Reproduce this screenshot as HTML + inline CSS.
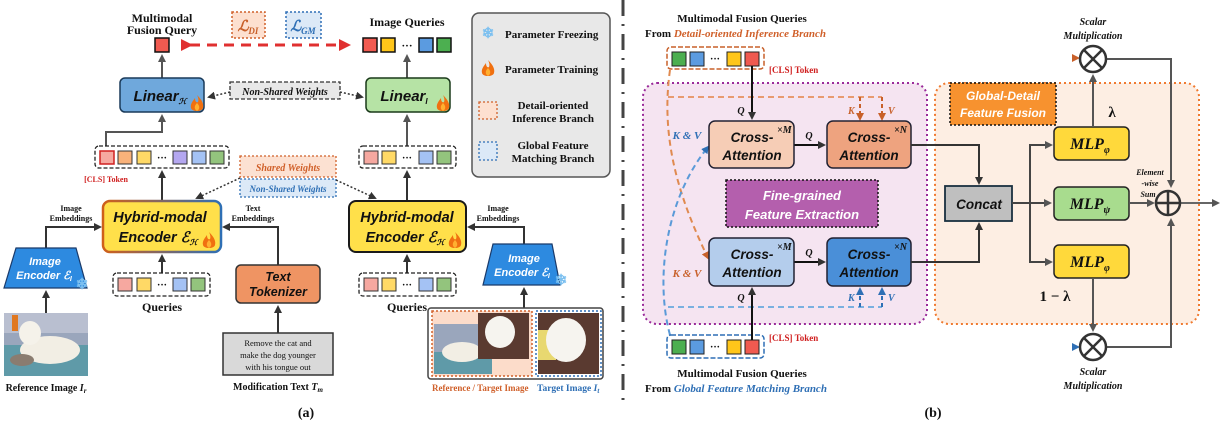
<!DOCTYPE html>
<html><head><meta charset="utf-8"><style>
html,body{margin:0;padding:0;background:#fff;width:1220px;height:423px;overflow:hidden}
text{font-family:"Liberation Serif",serif;font-weight:bold;fill:#111}
.s{font-family:"Liberation Sans",sans-serif;font-style:italic;font-weight:bold}
.it{font-style:italic}
</style></head><body>
<svg width="1220" height="423" viewBox="0 0 1220 423" xmlns="http://www.w3.org/2000/svg">
<defs>
<marker id="ah" markerWidth="8" markerHeight="8" refX="6" refY="4" orient="auto" markerUnits="userSpaceOnUse"><path d="M0,0 L8,4 L0,8 z" fill="#333"/></marker>
<marker id="ag" markerWidth="8" markerHeight="8" refX="6" refY="4" orient="auto" markerUnits="userSpaceOnUse"><path d="M0,0 L8,4 L0,8 z" fill="#555"/></marker>
<marker id="ar" markerWidth="12" markerHeight="12" refX="9" refY="6" orient="auto" markerUnits="userSpaceOnUse"><path d="M0,0 L12,6 L0,12 z" fill="#e03030"/></marker>
<marker id="ao" markerWidth="8" markerHeight="8" refX="6" refY="4" orient="auto" markerUnits="userSpaceOnUse"><path d="M0,0 L8,4 L0,8 z" fill="#c8602a"/></marker>
<marker id="ab" markerWidth="8" markerHeight="8" refX="6" refY="4" orient="auto" markerUnits="userSpaceOnUse"><path d="M0,0 L8,4 L0,8 z" fill="#2e6fb5"/></marker>
<linearGradient id="hyb" x1="0" x2="1"><stop offset="0" stop-color="#d0601a"/><stop offset="1" stop-color="#2e6fb5"/></linearGradient>
<linearGradient id="lo" x1="0" x2="1"><stop offset="0" stop-color="#f5c0a0"/><stop offset="1" stop-color="#d0602a"/></linearGradient>
<linearGradient id="lb" x1="0" x2="1"><stop offset="0" stop-color="#a8cdf0"/><stop offset="1" stop-color="#2e6fb5"/></linearGradient>
<g id="fire"><path d="M0,-9 C5,-4 7,0 6,4 C5,8 -5,8 -6,4 C-7,0 -4,-3 -2,-6 C-2,-2 0,-1 1,-2 C2,-4 1,-7 0,-9z" fill="#f07010"/><path d="M0,-1 C3,2 3,5 0,7 C-3,5 -3,2 0,-1z" fill="#ffb030"/></g>
</defs>

<text x="162" y="22" text-anchor="middle" font-size="12">Multimodal</text>
<text x="162" y="34" text-anchor="middle" font-size="12">Fusion Query</text>
<rect x="155" y="38" width="14" height="14" fill="#f05a50" stroke="#111" stroke-width="1.5"/>
<line x1="190" y1="45" x2="348" y2="45" stroke="#e03030" stroke-width="3" stroke-dasharray="10 7" marker-end="url(#ar)" marker-start="url(#ar)"/>
<rect x="232" y="12" width="33" height="26" fill="#fde0d0" stroke="#d0602a" stroke-width="1.5" stroke-dasharray="2 2"/>
<text x="248" y="31" text-anchor="middle" font-size="15" class="it" style="fill:#c8602a">ℒ<tspan font-size="9" dy="3">DI</tspan></text>
<rect x="286" y="12" width="35" height="26" fill="#dce9f7" stroke="#2e6fb5" stroke-width="1.5" stroke-dasharray="2 2"/>
<text x="303" y="31" text-anchor="middle" font-size="15" class="it" style="fill:#2e6fb5">ℒ<tspan font-size="9" dy="3">GM</tspan></text>
<text x="407" y="26" text-anchor="middle" font-size="12">Image Queries</text>
<rect x="363" y="38" width="14" height="14" fill="#f05a50" stroke="#111" stroke-width="1.5"/>
<rect x="381" y="38" width="14" height="14" fill="#ffc61a" stroke="#111" stroke-width="1.5"/>
<text x="407" y="49" text-anchor="middle" font-size="11">···</text>
<rect x="419" y="38" width="14" height="14" fill="#5b9be0" stroke="#111" stroke-width="1.5"/>
<rect x="437" y="38" width="14" height="14" fill="#4caf50" stroke="#111" stroke-width="1.5"/>

<rect x="472" y="13" width="138" height="164" rx="7" fill="#e8e8e8" stroke="#555" stroke-width="1.5"/>
<text x="488" y="38" text-anchor="middle" font-size="15" style="fill:#7cc0f0">❄</text>
<text x="505" y="38" font-size="11">Parameter Freezing</text>
<use href="#fire" x="488" y="69"/>
<text x="505" y="73" font-size="11">Parameter Training</text>
<rect x="479" y="102" width="18" height="17" fill="#fde0d0" stroke="#d0602a" stroke-width="1.3" stroke-dasharray="2 2"/>
<text x="553" y="109" text-anchor="middle" font-size="11">Detail-oriented</text>
<text x="553" y="122" text-anchor="middle" font-size="11">Inference Branch</text>
<rect x="479" y="142" width="18" height="18" fill="#dce9f7" stroke="#2e6fb5" stroke-width="1.3" stroke-dasharray="2 2"/>
<text x="553" y="149" text-anchor="middle" font-size="11">Global Feature</text>
<text x="553" y="162" text-anchor="middle" font-size="11">Matching Branch</text>

<line x1="162" y1="78" x2="162" y2="56" stroke="#555" stroke-width="2" marker-end="url(#ag)"/>
<line x1="407" y1="78" x2="407" y2="56" stroke="#555" stroke-width="2" marker-end="url(#ag)"/>
<rect x="120" y="78" width="84" height="34" rx="5" fill="#6fa8dc" stroke="#1a3a5a" stroke-width="1.5"/>
<text x="160" y="101" text-anchor="middle" font-size="15" class="s">Linear<tspan font-size="8" dy="3">ℋ</tspan></text>
<use href="#fire" x="197" y="104"/>
<rect x="366" y="78" width="84" height="34" rx="5" fill="#b6e3a5" stroke="#1a3a1a" stroke-width="1.5"/>
<text x="404" y="101" text-anchor="middle" font-size="15" class="s">Linear<tspan font-size="8" dy="3">I</tspan></text>
<use href="#fire" x="443" y="104"/>
<rect x="230" y="82" width="110" height="17" fill="#e8e8e8" stroke="#333" stroke-width="1.3" stroke-dasharray="4 2"/>
<text x="285" y="95" text-anchor="middle" font-size="10" class="it">Non-Shared Weights</text>
<line x1="230" y1="92" x2="209" y2="97" stroke="#333" stroke-width="1.5" stroke-dasharray="2 2" marker-end="url(#ah)"/>
<line x1="340" y1="92" x2="362" y2="97" stroke="#333" stroke-width="1.5" stroke-dasharray="2 2" marker-end="url(#ah)"/>

<path d="M106,150 L106,132 L162,132 L162,116" fill="none" stroke="#555" stroke-width="2" marker-end="url(#ag)"/>
<rect x="95" y="146" width="134" height="22" rx="4" fill="#fff" stroke="#222" stroke-width="1.3" stroke-dasharray="4 2"/>
<rect x="100" y="151" width="14" height="13" fill="#f6a8a0" stroke="#d02020" stroke-width="1.5"/>
<rect x="118" y="151" width="14" height="13" fill="#f9b27a" stroke="#333"/>
<rect x="137" y="151" width="14" height="13" fill="#ffd966" stroke="#333"/>
<text x="162" y="161" text-anchor="middle" font-size="10">···</text>
<rect x="173" y="151" width="14" height="13" fill="#b4a7f0" stroke="#333"/>
<rect x="192" y="151" width="14" height="13" fill="#a4c2f4" stroke="#333"/>
<rect x="210" y="151" width="14" height="13" fill="#93c47d" stroke="#333"/>
<text x="106" y="182" text-anchor="middle" font-size="8" style="fill:#d02020">[CLS] Token</text>
<line x1="407" y1="134" x2="407" y2="116" stroke="#555" stroke-width="2" marker-end="url(#ag)"/>
<line x1="407" y1="146" x2="407" y2="130" stroke="#555" stroke-width="2"/>
<rect x="359" y="146" width="97" height="22" rx="4" fill="#fff" stroke="#222" stroke-width="1.3" stroke-dasharray="4 2"/>
<rect x="364" y="151" width="14" height="13" fill="#f6a8a0" stroke="#333"/>
<rect x="382" y="151" width="14" height="13" fill="#ffd966" stroke="#333"/>
<text x="407" y="161" text-anchor="middle" font-size="10">···</text>
<rect x="419" y="151" width="14" height="13" fill="#a4c2f4" stroke="#333"/>
<rect x="437" y="151" width="14" height="13" fill="#93c47d" stroke="#333"/>

<rect x="240" y="156" width="96" height="21" fill="#fce1d2" stroke="#d0602a" stroke-width="1.3" stroke-dasharray="2 2"/>
<text x="288" y="171" text-anchor="middle" font-size="10" class="it" style="fill:#d0602a">Shared Weights</text>
<rect x="240" y="179" width="96" height="18" fill="#dce9f7" stroke="#2e6fb5" stroke-width="1.3" stroke-dasharray="2 2"/>
<text x="288" y="192" text-anchor="middle" font-size="9" class="it" style="fill:#2e6fb5">Non-Shared Weights</text>
<line x1="240" y1="178" x2="197" y2="198" stroke="#333" stroke-width="1.5" stroke-dasharray="2 2" marker-end="url(#ah)"/>
<line x1="336" y1="180" x2="375" y2="198" stroke="#333" stroke-width="1.5" stroke-dasharray="2 2" marker-end="url(#ah)"/>

<line x1="162" y1="201" x2="162" y2="172" stroke="#333" stroke-width="2" marker-end="url(#ah)"/>
<line x1="407" y1="201" x2="407" y2="172" stroke="#333" stroke-width="2" marker-end="url(#ah)"/>
<rect x="103" y="201" width="118" height="51" rx="7" fill="#ffe04a" stroke="url(#hyb)" stroke-width="2.5"/>
<text x="160" y="222" text-anchor="middle" font-size="14.5" class="s">Hybrid-modal</text>
<text x="158" y="242" text-anchor="middle" font-size="14.5" class="s">Encoder ℰ<tspan font-size="8" dy="3">ℋ</tspan></text>
<use href="#fire" x="209" y="241"/>
<rect x="349" y="201" width="117" height="51" rx="7" fill="#ffe04a" stroke="#1a1a1a" stroke-width="2"/>
<text x="407" y="222" text-anchor="middle" font-size="14.5" class="s">Hybrid-modal</text>
<text x="405" y="242" text-anchor="middle" font-size="14.5" class="s">Encoder ℰ<tspan font-size="8" dy="3">ℋ</tspan></text>
<use href="#fire" x="455" y="241"/>
<text x="71" y="211" text-anchor="middle" font-size="8">Image</text>
<text x="71" y="221" text-anchor="middle" font-size="8">Embeddings</text>
<text x="253" y="211" text-anchor="middle" font-size="8">Text</text>
<text x="253" y="221" text-anchor="middle" font-size="8">Embeddings</text>
<text x="498" y="211" text-anchor="middle" font-size="8">Image</text>
<text x="498" y="221" text-anchor="middle" font-size="8">Embeddings</text>
<path d="M46,248 L46,227 L100,227" fill="none" stroke="#333" stroke-width="2" marker-end="url(#ah)"/>
<path d="M278,265 L278,227 L224,227" fill="none" stroke="#333" stroke-width="2" marker-end="url(#ah)"/>
<path d="M524,244 L524,227 L469,227" fill="none" stroke="#333" stroke-width="2" marker-end="url(#ah)"/>

<polygon points="16,248 76,248 87,288 4,288" fill="#2d8ae0" stroke="#1a3a6a" stroke-width="1.2"/>
<text x="45" y="265" text-anchor="middle" font-size="11" class="s" style="fill:#fff">Image</text>
<text x="44" y="279" text-anchor="middle" font-size="11" class="s" style="fill:#fff">Encoder ℰ<tspan font-size="7" dy="2">I</tspan></text>
<text x="82" y="289" text-anchor="middle" font-size="15" style="fill:#7cc0f0">❄</text>
<polygon points="493,244 552,244 560,285 483,285" fill="#2d8ae0" stroke="#1a3a6a" stroke-width="1.2"/>
<text x="524" y="262" text-anchor="middle" font-size="11" class="s" style="fill:#fff">Image</text>
<text x="522" y="276" text-anchor="middle" font-size="11" class="s" style="fill:#fff">Encoder ℰ<tspan font-size="7" dy="2">I</tspan></text>
<text x="561" y="285" text-anchor="middle" font-size="15" style="fill:#7cc0f0">❄</text>

<line x1="162" y1="273" x2="162" y2="256" stroke="#333" stroke-width="2" marker-end="url(#ah)"/>
<line x1="407" y1="273" x2="407" y2="256" stroke="#333" stroke-width="2" marker-end="url(#ah)"/>
<rect x="113" y="273" width="97" height="23" rx="4" fill="#fff" stroke="#222" stroke-width="1.3" stroke-dasharray="4 2"/>
<rect x="118" y="278" width="14" height="13" fill="#f6a8a0" stroke="#333"/>
<rect x="137" y="278" width="14" height="13" fill="#ffd966" stroke="#333"/>
<text x="162" y="288" text-anchor="middle" font-size="10">···</text>
<rect x="173" y="278" width="14" height="13" fill="#a4c2f4" stroke="#333"/>
<rect x="191" y="278" width="14" height="13" fill="#93c47d" stroke="#333"/>
<text x="162" y="311" text-anchor="middle" font-size="12">Queries</text>
<rect x="359" y="273" width="97" height="23" rx="4" fill="#fff" stroke="#222" stroke-width="1.3" stroke-dasharray="4 2"/>
<rect x="364" y="278" width="14" height="13" fill="#f6a8a0" stroke="#333"/>
<rect x="382" y="278" width="14" height="13" fill="#ffd966" stroke="#333"/>
<text x="407" y="288" text-anchor="middle" font-size="10">···</text>
<rect x="419" y="278" width="14" height="13" fill="#a4c2f4" stroke="#333"/>
<rect x="437" y="278" width="14" height="13" fill="#93c47d" stroke="#333"/>
<text x="407" y="311" text-anchor="middle" font-size="12">Queries</text>

<rect x="236" y="265" width="84" height="38" rx="5" fill="#ef9463" stroke="#333" stroke-width="1.5"/>
<text x="278" y="281" text-anchor="middle" font-size="12.5" class="s">Text</text>
<text x="278" y="296" text-anchor="middle" font-size="12.5" class="s">Tokenizer</text>
<line x1="278" y1="333" x2="278" y2="307" stroke="#333" stroke-width="2" marker-end="url(#ah)"/>
<rect x="223" y="333" width="110" height="42" fill="#d9d9d9" stroke="#333" stroke-width="1.5"/>
<text x="278" y="346" text-anchor="middle" font-size="8.5" style="font-weight:normal">Remove the cat and</text>
<text x="278" y="358" text-anchor="middle" font-size="8.5" style="font-weight:normal">make the dog younger</text>
<text x="278" y="370" text-anchor="middle" font-size="8.5" style="font-weight:normal">with his tongue out</text>
<text x="278" y="390" text-anchor="middle" font-size="10">Modification Text <tspan class="it">T</tspan><tspan font-size="7" dy="2" class="it">m</tspan></text>

<line x1="46" y1="313" x2="46" y2="292" stroke="#333" stroke-width="2" marker-end="url(#ah)"/>
<rect x="4" y="313" width="84" height="63" fill="#9aa6bc"/>
<rect x="4" y="313" width="84" height="20" fill="#b9bfd0"/>
<rect x="12" y="315" width="6" height="16" fill="#e07820"/>
<rect x="4" y="345" width="84" height="31" fill="#5f9aa8"/>
<ellipse cx="50" cy="350" rx="30" ry="14" fill="#f2eee4"/>
<ellipse cx="30" cy="333" rx="11" ry="12" fill="#f5f2ea"/>
<ellipse cx="22" cy="360" rx="12" ry="6" fill="#8a7c70"/>
<text x="46" y="391" text-anchor="middle" font-size="10">Reference Image <tspan class="it">I</tspan><tspan font-size="7" dy="2" class="it">r</tspan></text>

<line x1="524" y1="308" x2="524" y2="289" stroke="#333" stroke-width="2" marker-end="url(#ah)"/>
<rect x="428" y="308" width="175" height="71" rx="3" fill="#fff" stroke="#444" stroke-width="1.5"/>
<rect x="432" y="311" width="100" height="65" fill="#fcdcca" stroke="#d0602a" stroke-width="1.5" stroke-dasharray="2 2"/>
<rect x="434" y="324" width="58" height="50" fill="#9aa6bc"/>
<rect x="434" y="352" width="58" height="22" fill="#5f9aa8"/>
<ellipse cx="462" cy="352" rx="20" ry="10" fill="#f2eee4"/>
<rect x="478" y="313" width="51" height="46" fill="#5a3a30"/>
<ellipse cx="500" cy="332" rx="15" ry="16" fill="#f6f4ef"/>
<rect x="536" y="311" width="65" height="65" fill="#fff" stroke="#2e6fb5" stroke-width="1.5" stroke-dasharray="2 2"/>
<rect x="538" y="313" width="61" height="61" fill="#5a3a30"/>
<rect x="538" y="330" width="18" height="30" fill="#e8d870"/>
<ellipse cx="566" cy="340" rx="20" ry="22" fill="#f6f4ef"/>
<text x="432" y="391" font-size="9" style="fill:#d0602a">Reference / Target Image</text>
<text x="537" y="391" font-size="9.5" style="fill:#2e6fb5">Target Image <tspan class="it">I</tspan><tspan font-size="7" dy="2" class="it">t</tspan></text>
<text x="306" y="417" text-anchor="middle" font-size="14">(a)</text>

<line x1="623" y1="0" x2="623" y2="405" stroke="#444" stroke-width="3" stroke-dasharray="16 8 2 8"/>

<rect x="643" y="83" width="284" height="241" rx="14" fill="#f5e4f1" stroke="#9a2a9a" stroke-width="2" stroke-dasharray="2 3"/>
<rect x="935" y="83" width="264" height="241" rx="14" fill="#fdeee3" stroke="#f07a30" stroke-width="2" stroke-dasharray="2 3"/>

<text x="742" y="22" text-anchor="middle" font-size="11">Multimodal Fusion Queries</text>
<text x="645" y="37" font-size="11">From <tspan class="it" style="fill:#d0602a">Detail-oriented Inference Branch</tspan></text>
<text x="742" y="377" text-anchor="middle" font-size="11">Multimodal Fusion Queries</text>
<text x="645" y="392" font-size="11">From <tspan class="it" style="fill:#2e6fb5">Global Feature Matching Branch</tspan></text>

<line x1="765" y1="58" x2="1078" y2="58" stroke="url(#lo)" stroke-width="2.5" marker-end="url(#ao)"/>
<line x1="765" y1="347" x2="1078" y2="347" stroke="url(#lb)" stroke-width="2.5" marker-end="url(#ab)"/>
<path d="M670,70 C660,140 680,200 708,258" fill="none" stroke="#e08a50" stroke-width="2" stroke-dasharray="6 4" marker-end="url(#ao)"/>
<path d="M670,335 C655,280 665,200 708,147" fill="none" stroke="#5a9ad8" stroke-width="2" stroke-dasharray="6 4" marker-end="url(#ab)"/>
<path d="M668,97 L882,97" fill="none" stroke="#e89a70" stroke-width="2" stroke-dasharray="6 4"/>
<line x1="860" y1="97" x2="860" y2="119" stroke="#c8602a" stroke-width="2" stroke-dasharray="4 3" marker-end="url(#ao)"/>
<line x1="882" y1="97" x2="882" y2="119" stroke="#c8602a" stroke-width="2" stroke-dasharray="4 3" marker-end="url(#ao)"/>
<path d="M668,307 L882,307" fill="none" stroke="#7ab0e0" stroke-width="2" stroke-dasharray="6 4"/>
<line x1="860" y1="307" x2="860" y2="289" stroke="#2e6fb5" stroke-width="2" stroke-dasharray="4 3" marker-end="url(#ab)"/>
<line x1="882" y1="307" x2="882" y2="289" stroke="#2e6fb5" stroke-width="2" stroke-dasharray="4 3" marker-end="url(#ab)"/>
<text x="848" y="114" font-size="10" class="it" style="fill:#c8602a">K</text>
<text x="888" y="114" font-size="10" class="it" style="fill:#c8602a">V</text>
<text x="848" y="301" font-size="10" class="it" style="fill:#2e6fb5">K</text>
<text x="888" y="301" font-size="10" class="it" style="fill:#2e6fb5">V</text>
<text x="687" y="139" text-anchor="middle" font-size="11" class="it" style="fill:#2e6fb5">K &amp; V</text>
<text x="687" y="277" text-anchor="middle" font-size="11" class="it" style="fill:#c8602a">K &amp; V</text>

<rect x="667" y="47" width="97" height="22" rx="4" fill="#fff" stroke="#c8602a" stroke-width="1.5" stroke-dasharray="5 2"/>
<rect x="672" y="52" width="14" height="14" fill="#4caf50" stroke="#222"/>
<rect x="690" y="52" width="14" height="14" fill="#5b9be0" stroke="#222"/>
<text x="715" y="62" text-anchor="middle" font-size="10">···</text>
<rect x="727" y="52" width="14" height="14" fill="#ffc61a" stroke="#222"/>
<rect x="745" y="52" width="14" height="14" fill="#f05a50" stroke="#222"/>
<text x="769" y="73" font-size="9" style="fill:#d02020">[CLS] Token</text>
<rect x="667" y="335" width="97" height="23" rx="4" fill="#fff" stroke="#2e6fb5" stroke-width="1.5" stroke-dasharray="5 2"/>
<rect x="672" y="340" width="14" height="14" fill="#4caf50" stroke="#222"/>
<rect x="690" y="340" width="14" height="14" fill="#5b9be0" stroke="#222"/>
<text x="715" y="350" text-anchor="middle" font-size="10">···</text>
<rect x="727" y="340" width="14" height="14" fill="#ffc61a" stroke="#222"/>
<rect x="745" y="340" width="14" height="14" fill="#f05a50" stroke="#222"/>
<text x="769" y="341" font-size="9" style="fill:#d02020">[CLS] Token</text>

<line x1="752" y1="66" x2="752" y2="118" stroke="#111" stroke-width="2" marker-end="url(#ah)"/>
<line x1="752" y1="340" x2="752" y2="289" stroke="#111" stroke-width="2" marker-end="url(#ah)"/>
<text x="741" y="114" text-anchor="middle" font-size="10" class="it">Q</text>
<text x="741" y="301" text-anchor="middle" font-size="10" class="it">Q</text>
<line x1="794" y1="145" x2="824" y2="145" stroke="#111" stroke-width="2" marker-end="url(#ah)"/>
<line x1="794" y1="262" x2="824" y2="262" stroke="#111" stroke-width="2" marker-end="url(#ah)"/>
<text x="809" y="139" text-anchor="middle" font-size="10" class="it">Q</text>
<text x="809" y="256" text-anchor="middle" font-size="10" class="it">Q</text>

<rect x="709" y="121" width="85" height="47" rx="6" fill="#f6cdb6" stroke="#223" stroke-width="1.5"/>
<rect x="827" y="121" width="84" height="47" rx="6" fill="#eea37f" stroke="#223" stroke-width="1.5"/>
<rect x="709" y="238" width="85" height="48" rx="6" fill="#b4cdec" stroke="#223" stroke-width="1.5"/>
<rect x="827" y="238" width="84" height="48" rx="6" fill="#4a8fd8" stroke="#223" stroke-width="1.5"/>
<g font-size="13.5">
<text x="752" y="142" text-anchor="middle" class="s">Cross-</text><text x="752" y="160" text-anchor="middle" class="s">Attention</text>
<text x="869" y="142" text-anchor="middle" class="s">Cross-</text><text x="869" y="160" text-anchor="middle" class="s">Attention</text>
<text x="752" y="259" text-anchor="middle" class="s">Cross-</text><text x="752" y="277" text-anchor="middle" class="s">Attention</text>
<text x="869" y="259" text-anchor="middle" class="s">Cross-</text><text x="869" y="277" text-anchor="middle" class="s">Attention</text>
</g>
<text x="777" y="133" font-size="10" class="it">×M</text>
<text x="894" y="133" font-size="10" class="it">×N</text>
<text x="777" y="250" font-size="10" class="it">×M</text>
<text x="894" y="250" font-size="10" class="it">×N</text>

<rect x="726" y="180" width="152" height="47" fill="#b45fad" stroke="#111" stroke-width="1.5" stroke-dasharray="2 2"/>
<text x="802" y="200" text-anchor="middle" font-size="13" class="s" style="fill:#fff">Fine-grained</text>
<text x="802" y="219" text-anchor="middle" font-size="13" class="s" style="fill:#fff">Feature Extraction</text>

<rect x="950" y="83" width="106" height="42" fill="#f7922f" stroke="#111" stroke-width="1.5" stroke-dasharray="2 2"/>
<text x="1003" y="100" text-anchor="middle" font-size="12" class="s" style="fill:#fff">Global-Detail</text>
<text x="1003" y="117" text-anchor="middle" font-size="12" class="s" style="fill:#fff">Feature Fusion</text>

<path d="M911,145 L979,145 L979,183" fill="none" stroke="#333" stroke-width="2" marker-end="url(#ah)"/>
<path d="M911,262 L979,262 L979,224" fill="none" stroke="#333" stroke-width="2" marker-end="url(#ah)"/>
<rect x="945" y="186" width="67" height="35" fill="#bfbfbf" stroke="#1a3040" stroke-width="1.8"/>
<text x="979" y="209" text-anchor="middle" font-size="13.5" class="s">Concat</text>
<line x1="1012" y1="203" x2="1050" y2="203" stroke="#444" stroke-width="2" marker-end="url(#ag)"/>
<path d="M1050,145 L1030,145 L1030,262 L1050,262" fill="none" stroke="#444" stroke-width="2"/>
<line x1="1040" y1="145" x2="1051" y2="145" stroke="#444" stroke-width="2" marker-end="url(#ag)"/>
<line x1="1040" y1="262" x2="1051" y2="262" stroke="#444" stroke-width="2" marker-end="url(#ag)"/>

<rect x="1054" y="127" width="75" height="33" rx="5" fill="#ffd93b" stroke="#222" stroke-width="1.5"/>
<rect x="1054" y="187" width="75" height="33" rx="5" fill="#a8dc8e" stroke="#222" stroke-width="1.5"/>
<rect x="1054" y="245" width="75" height="33" rx="5" fill="#ffd93b" stroke="#222" stroke-width="1.5"/>
<text x="1090" y="149" text-anchor="middle" font-size="16" class="it">MLP<tspan font-size="10" dy="4">φ</tspan></text>
<text x="1090" y="209" text-anchor="middle" font-size="16" class="it">MLP<tspan font-size="10" dy="4">ψ</tspan></text>
<text x="1090" y="267" text-anchor="middle" font-size="16" class="it">MLP<tspan font-size="10" dy="4">φ</tspan></text>
<text x="1112" y="117" text-anchor="middle" font-size="15">λ</text>
<text x="1055" y="301" text-anchor="middle" font-size="15">1 − λ</text>

<line x1="1093" y1="127" x2="1093" y2="76" stroke="#555" stroke-width="2" marker-end="url(#ag)"/>
<line x1="1093" y1="278" x2="1093" y2="330" stroke="#555" stroke-width="2" marker-end="url(#ag)"/>
<path d="M1106,59 L1171,59 L1171,186" fill="none" stroke="#555" stroke-width="2" marker-end="url(#ag)"/>
<path d="M1106,347 L1171,347 L1171,220" fill="none" stroke="#555" stroke-width="2" marker-end="url(#ag)"/>
<line x1="1129" y1="203" x2="1153" y2="203" stroke="#555" stroke-width="2" marker-end="url(#ag)"/>
<line x1="1181" y1="203" x2="1218" y2="203" stroke="#666" stroke-width="2" marker-end="url(#ag)"/>

<g stroke="#333" stroke-width="2.5" fill="none">
<circle cx="1093" cy="59" r="13" fill="#fff"/><line x1="1084" y1="50" x2="1102" y2="68"/><line x1="1102" y1="50" x2="1084" y2="68"/>
<circle cx="1093" cy="347" r="13" fill="#fff"/><line x1="1084" y1="338" x2="1102" y2="356"/><line x1="1102" y1="338" x2="1084" y2="356"/>
<circle cx="1168" cy="203" r="12" fill="#fdeee3"/><line x1="1156" y1="203" x2="1180" y2="203"/><line x1="1168" y1="191" x2="1168" y2="215"/>
</g>
<text x="1093" y="25" text-anchor="middle" font-size="10" class="it">Scalar</text>
<text x="1093" y="39" text-anchor="middle" font-size="10" class="it">Multiplication</text>
<text x="1093" y="375" text-anchor="middle" font-size="10" class="it">Scalar</text>
<text x="1093" y="389" text-anchor="middle" font-size="10" class="it">Multiplication</text>
<text x="1150" y="175" text-anchor="middle" font-size="8" class="it">Element</text>
<text x="1150" y="186" text-anchor="middle" font-size="8" class="it">-wise</text>
<text x="1148" y="197" text-anchor="middle" font-size="8" class="it">Sum</text>
<text x="933" y="417" text-anchor="middle" font-size="14">(b)</text>
</svg>
</body></html>
